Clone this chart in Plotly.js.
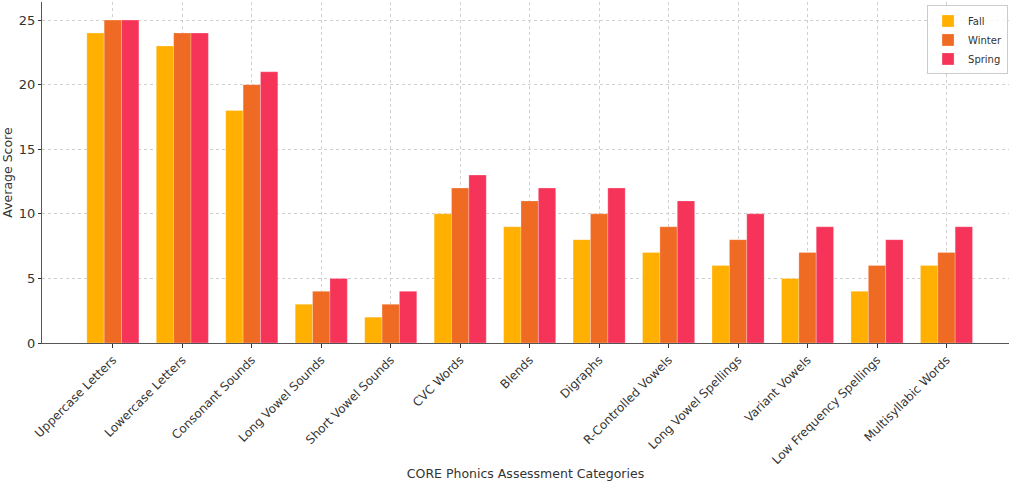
<!DOCTYPE html>
<html>
<head>
<meta charset="utf-8">
<script src="https://cdn.plot.ly/plotly-3.0.1.min.js"></script>
<style>html,body{margin:0;padding:0;background:#fff;}#chart{width:1009px;height:481px;}</style>
</head>
<body>
<div id="chart"></div>
<script>
const categories = ["Uppercase Letters","Lowercase Letters","Consonant Sounds","Long Vowel Sounds","Short Vowel Sounds","CVC Words","Blends","Digraphs","R-Controlled Vowels","Long Vowel Spellings","Variant Vowels","Low Frequency Spellings","Multisyllabic Words"];
const fall   = [24,23,18,3,2,10,9,8,7,6,5,4,6];
const winter = [25,24,20,4,3,12,11,10,9,8,7,6,7];
const spring = [25,24,21,5,4,13,12,12,11,10,9,8,9];
const seriesNames = ["Fall","Winter","Spring"];
const seriesColors = ["#FFB000","#EF6A22","#F6345A"];

const values = [fall, winter, spring];
const idx = categories.map((c,i)=>i);
const traces = values.map((v,k)=>({
  type:"bar", name:seriesNames[k], x:idx, y:v,
  marker:{color:seriesColors[k], line:{color:"rgba(255,255,255,0.5)", width:0.5}},
  hoverinfo:"y"
}));

const ff = "DejaVu Sans, sans-serif";
const layout = {
  width:1009, height:481,
  margin:{l:42, r:0, t:2, b:138},
  paper_bgcolor:"#fff", plot_bgcolor:"#fff",
  font:{family:ff, color:"#333", size:12},
  barmode:"group", bargap:0.25, bargroupgap:0,
  showlegend:true,
  legend:{x:0.999, xanchor:"right", y:0.99, yanchor:"top", bgcolor:"rgba(255,255,255,0.8)", bordercolor:"#ccc", borderwidth:1, font:{family:ff, size:10, color:"#333"}, tracegroupgap:0, itemwidth:30},
  xaxis:{
    tickmode:"array", tickvals:idx, ticktext:categories, tickangle:-45,
    range:[-1.02, 12.9],
    showgrid:true, gridcolor:"#d0d0d0", griddash:"dot", gridwidth:1,
    showline:true, linecolor:"#555", linewidth:1.2,
    ticks:"outside", ticklen:4, tickcolor:"#333",
    tickfont:{family:ff, size:12, color:"#333"},
    title:{text:"CORE Phonics Assessment Categories", font:{family:ff, size:12.5, color:"#333"}, standoff:6},
    zeroline:false, fixedrange:true
  },
  yaxis:{
    range:[0, 26.4], tickvals:[0,5,10,15,20,25],
    showgrid:true, gridcolor:"#d0d0d0", griddash:"dot", gridwidth:1,
    showline:true, linecolor:"#555", linewidth:1.2,
    ticks:"outside", ticklen:3, tickcolor:"#333",
    tickfont:{family:ff, size:13, color:"#333"},
    title:{text:"Average Score", font:{family:ff, size:12.5, color:"#333"}, standoff:4},
    zeroline:false, fixedrange:true
  }
};
Plotly.newPlot("chart", traces, layout, {staticPlot:true, displayModeBar:false});
</script>
</body>
</html>
